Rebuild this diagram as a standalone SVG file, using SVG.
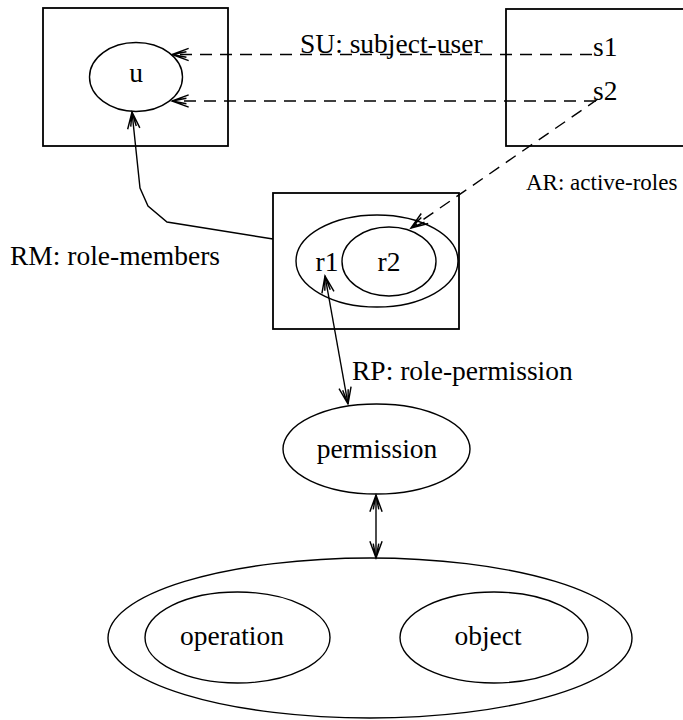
<svg xmlns="http://www.w3.org/2000/svg" width="683" height="720" viewBox="0 0 683 720">
<style>
.box{fill:none;stroke:#000;stroke-width:1.8}
.ell{fill:none;stroke:#000;stroke-width:1.4}
.ln{fill:none;stroke:#000;stroke-width:1.4}
.dash{fill:none;stroke:#000;stroke-width:1.4;stroke-dasharray:12 8}
text{font-family:"Liberation Serif","Times New Roman",serif;font-size:27.5px;fill:#000}
.c{text-anchor:middle}
</style>
<defs>
<marker id="arr" markerUnits="userSpaceOnUse" orient="auto-start-reverse" refX="0" refY="0" markerWidth="20" markerHeight="20" viewBox="-16 -8 18 16" overflow="visible">
<path d="M-15,-5.5 L0,0 L-15,5.5 M-13,-2.5 L0,0 L-13,2.5" fill="none" stroke="#000" stroke-width="1.3" stroke-dasharray="none"/>
</marker>
</defs>
<rect width="683" height="720" fill="#fff"/>
<g id="node-u">
<rect class="box" x="43" y="8" width="185" height="138"/>
<ellipse class="ell" cx="136" cy="77" rx="46.5" ry="34.5"/>
<text class="c" x="136" y="82">u</text>
</g>
<g id="node-s">
<rect class="box" x="506" y="9" width="200" height="137"/>
<text x="593" y="56">s1</text>
<text x="593" y="100">s2</text>
</g>
<g id="node-r">
<rect class="box" x="273" y="193" width="186" height="136"/>
<ellipse class="ell" cx="377" cy="261" rx="81" ry="46"/>
<ellipse class="ell" cx="389" cy="261.5" rx="47" ry="34.5"/>
<text class="c" x="327" y="271">r1</text>
<text class="c" x="389" y="271">r2</text>
</g>
<g id="node-permission">
<ellipse class="ell" cx="376.5" cy="449" rx="93.5" ry="45"/>
<text class="c" x="377" y="458">permission</text>
</g>
<g id="node-opobj">
<ellipse class="ell" cx="370" cy="638" rx="262" ry="80"/>
<ellipse class="ell" cx="237.5" cy="637.5" rx="92.5" ry="45.5"/>
<ellipse class="ell" cx="494" cy="637.5" rx="94" ry="45.5"/>
<text class="c" x="232" y="645">operation</text>
<text class="c" x="488" y="645">object</text>
</g>
<g id="connectors">
<path class="dash" d="M592,54.5 L172,54.5" marker-end="url(#arr)"/>
<path class="dash" d="M596,101 L172,101" marker-end="url(#arr)"/>
<path class="dash" d="M598,99 L411,228" marker-end="url(#arr)"/>
<path class="ln" d="M273,239 L167,222 L148,206 L140,188 L132,112" marker-end="url(#arr)"/>
<path class="ln" d="M325,276 L348,404" marker-start="url(#arr)" marker-end="url(#arr)"/>
<path class="ln" d="M376,495 L376,558" marker-start="url(#arr)" marker-end="url(#arr)"/>
</g>
<g id="labels">
<text x="300" y="53">SU: subject-user</text>
<text x="526" y="190" style="font-size:23px">AR: active-roles</text>
<text x="10" y="265">RM: role-members</text>
<text x="352" y="380">RP: role-permission</text>
</g>
</svg>
